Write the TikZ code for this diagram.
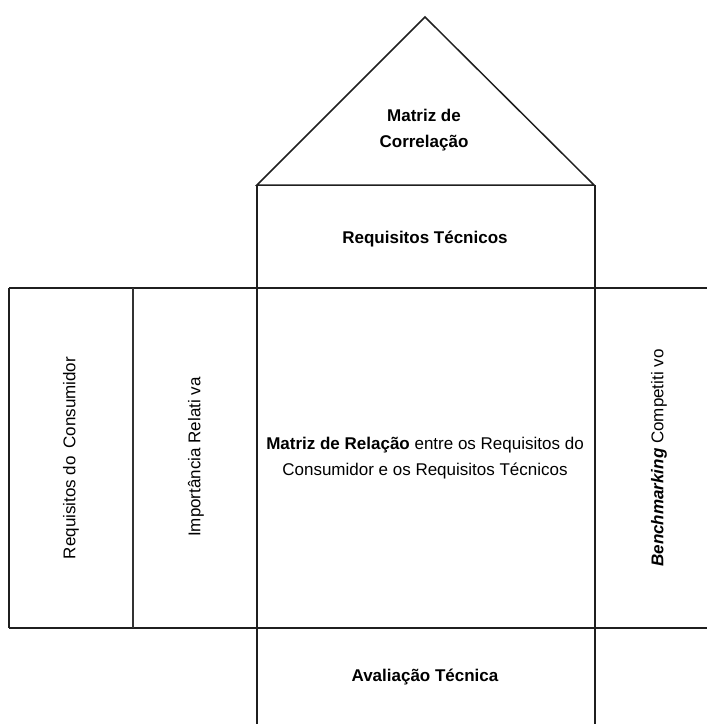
\documentclass[tikz,border=0pt]{standalone}
\usepackage{fontspec}
\setmainfont{Liberation Sans}
\begin{document}
\begin{tikzpicture}[x=1pt,y=-1pt,
  wall/.style={line width=1.5pt, draw=black!88},
  thick wall/.style={line width=2.3pt, draw=black!80},
  label/.style={font=\fontsize{17}{26.5}\selectfont, align=center, inner sep=0pt},
  boldlabel/.style={label, font=\fontsize{17}{26.5}\selectfont\bfseries},
  side/.style={label, rotate=90}]
\useasboundingbox (0,0) rectangle (707,724);
% roof
\draw[wall, line join=miter] (257,185) -- (425,17) -- (594,185) -- cycle;
% central columns
\draw[wall] (257,185) -- (257,724);
\draw[wall] (595,185) -- (595,724);
% horizontal bands
\draw[wall] (9,288) -- (707,288);
\draw[wall] (9,628) -- (707,628);
% customer requirements box
\draw[wall] (9,288) -- (9,628);
\draw[thick wall] (133,288) -- (133,628);

% texts
\node[boldlabel] (roof) at (424,130) {Matriz de\\Correlação};
\node[boldlabel] (tech) at (425,239) {Requisitos Técnicos};
\node[label] (rel) at (425,458) {\textbf{Matriz de Relação} entre os Requisitos do\\Consumidor e os Requisitos Técnicos};
\node[boldlabel] (eval) at (425,677) {Avaliação Técnica};
\node[side] (cons) at (71,458) {Requisitos do\ \,Consumidor};
\node[side] (imp) at (196,457) {Importância Relati va};
\node[side] (bench) at (659,458) {\textbf{\itshape Benchmarking} Competiti vo};
\end{tikzpicture}
\end{document}
